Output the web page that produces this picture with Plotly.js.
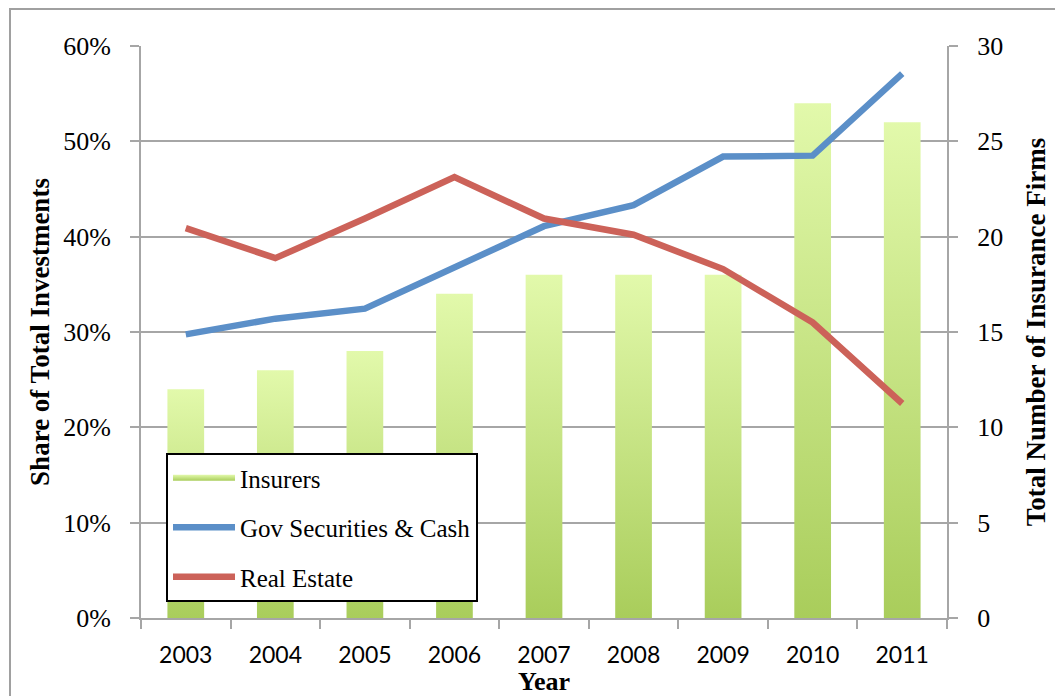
<!DOCTYPE html>
<html>
<head>
<meta charset="utf-8">
<script src="https://cdn.plot.ly/plotly-3.0.1.min.js"></script>
<style>
  html, body { margin: 0; padding: 0; background: #ffffff; }
  #chart { width: 1055px; height: 696px; }
</style>
</head>
<body>
<div id="chart"></div>
<script>
// ---- data ----
const years = [2003, 2004, 2005, 2006, 2007, 2008, 2009, 2010, 2011];
const insurers = [12, 13, 14, 17, 18, 18, 18, 27, 26];           // right axis: number of firms
const govSecurities = [0.2975, 0.314, 0.3245, 0.367, 0.411, 0.433, 0.484, 0.485, 0.571];
const realEstate = [0.409, 0.3775, 0.419, 0.4625, 0.419, 0.402, 0.366, 0.310, 0.225];

// ---- style ----
const serif = 'Liberation Serif, Times New Roman, serif';
const sans = 'Lato, Carlito, Calibri, sans-serif';
const gridGray = '#a6a6a6';
const barHalf = 0.205;
const barScale = [[0, '#a9cd5b'], [1, '#e2f9ab']];

const traces = [];
// Insurers bars: one filled polygon per bar so each gets its own vertical gradient
years.forEach((yr, i) => {
  const v = insurers[i];
  traces.push({
    type: 'scatter',
    mode: 'none',
    name: 'Insurers',
    legendgroup: 'ins',
    showlegend: i === 0,
    x: [yr - barHalf, yr - barHalf, yr + barHalf, yr + barHalf],
    y: [0, v, v, 0],
    fill: 'toself',
    fillcolor: '#c8e68a',
    fillgradient: { type: 'vertical', colorscale: barScale },
    xaxis: 'x',
    yaxis: 'y',
    hoverinfo: 'skip'
  });
});

traces.push({
  type: 'scatter',
  mode: 'lines',
  name: 'Gov Securities &amp; Cash',
  legendgroup: 'gov',
  x: years,
  y: govSecurities,
  line: { color: '#5b8fc8', width: 6.5, shape: 'linear' },
  xaxis: 'x',
  yaxis: 'y2'
});
traces.push({
  type: 'scatter',
  mode: 'lines',
  name: 'Real Estate',
  legendgroup: 're',
  x: years,
  y: realEstate,
  line: { color: '#cc6259', width: 6.5 },
  xaxis: 'x',
  yaxis: 'y2'
});

const minorTicks = years.map(y => y - 0.5).concat([years[years.length - 1] + 0.5]);

const W = 1055, H = 696;
const m = { l: 141, r: 108, t: 46, b: 78 };
const pw = W - m.l - m.r, ph = H - m.t - m.b;

const layout = {
  width: W,
  height: H,
  margin: m,
  paper_bgcolor: '#ffffff',
  plot_bgcolor: '#ffffff',
  showlegend: true,
  xaxis: {
    range: [years[0] - 0.5, years[years.length - 1] + 0.5],
    tickmode: 'array',
    tickvals: years,
    ticktext: years.map(String),
    ticks: '',
    ticklabelstandoff: 15,
    tickfont: { family: sans, size: 23, color: '#000' },
    showgrid: false,
    zeroline: false,
    showline: true,
    linecolor: gridGray,
    linewidth: 2,
    minor: { tickmode: 'array', tickvals: minorTicks, ticks: 'outside', ticklen: 9, tickwidth: 2, tickcolor: gridGray, showgrid: false },
    title: { text: '<b>Year</b>', font: { family: serif, size: 26, color: '#000' }, standoff: 6 },
    fixedrange: true
  },
  yaxis: {
    side: 'right',
    range: [0, 30],
    tickmode: 'linear',
    tick0: 0,
    dtick: 5,
    ticks: 'outside',
    ticklen: 9,
    tickwidth: 2,
    tickcolor: gridGray,
    ticklabelstandoff: 14,
    tickfont: { family: serif, size: 26, color: '#000' },
    showgrid: true,
    gridcolor: gridGray,
    gridwidth: 2,
    zeroline: false,
    showline: true,
    linecolor: gridGray,
    linewidth: 2,
    title: { text: '<b>Total Number of Insurance Firms</b>', font: { family: serif, size: 27, color: '#000' }, standoff: 24 },
    fixedrange: true
  },
  yaxis2: {
    side: 'left',
    overlaying: 'y',
    range: [0, 0.6],
    tickmode: 'linear',
    tick0: 0,
    dtick: 0.1,
    tickformat: '.0%',
    ticks: 'outside',
    ticklen: 9,
    tickwidth: 2,
    tickcolor: gridGray,
    ticklabelstandoff: 14,
    tickfont: { family: serif, size: 26, color: '#000' },
    showgrid: false,
    zeroline: false,
    showline: true,
    linecolor: gridGray,
    linewidth: 2,
    title: { text: '<b>Share of Total Investments</b>', font: { family: serif, size: 27, color: '#000' }, standoff: 6 },
    fixedrange: true
  },
  legend: {
    x: (166 - m.l) / pw,
    y: (H - m.b - 453) / ph,
    xanchor: 'left',
    yanchor: 'top',
    bgcolor: '#ffffff',
    bordercolor: '#000000',
    borderwidth: 2,
    font: { family: serif, size: 25, color: '#000' },
    traceorder: 'grouped',
    tracegroupgap: 14,
    itemwidth: 62
  },
  shapes: [{
    type: 'rect',
    xref: 'paper', yref: 'paper',
    x0: (10 - m.l) / pw, x1: (W + 20 - m.l) / pw,
    y0: (H - m.b - 9) / ph, y1: (H - m.b - (H + 20)) / ph,
    line: { color: '#a0a0a0', width: 2 },
    fillcolor: 'rgba(0,0,0,0)',
    layer: 'below'
  }]
};

Plotly.newPlot('chart', traces, layout, { displayModeBar: false, staticPlot: true });
</script>
</body>
</html>
